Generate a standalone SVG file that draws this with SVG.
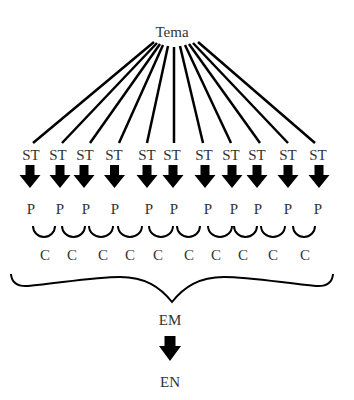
<svg xmlns="http://www.w3.org/2000/svg" xmlns:xlink="http://www.w3.org/1999/xlink" width="354" height="400" viewBox="0 0 354 400">
<style>
text{font-family:'Liberation Serif','DejaVu Serif',serif;font-size:15px;fill:#333;text-anchor:middle}
.ln{stroke:#000;stroke-width:2.5;fill:none;stroke-linecap:butt}
.arc{stroke:#000;stroke-width:2;fill:none}
.ar{fill:#000}
</style>
<defs>
<path id="arr" d="M-4.5,0 H4.5 V10 H10.5 L0,23 L-10.5,10 H-4.5 Z"/>
<path id="arrBig" d="M-5.5,0 H5.5 V10 H11 L0,25 L-11,10 H-5.5 Z"/>
</defs>
<rect width="354" height="400" fill="#fff"/>
<g id="connectors">
<g id="tema-lines">
<line class="ln" x1="154" y1="42" x2="33" y2="143"/>
<line class="ln" x1="157" y1="43" x2="62" y2="143"/>
<line class="ln" x1="160" y1="44" x2="90" y2="143"/>
<line class="ln" x1="163" y1="45" x2="119" y2="143"/>
<line class="ln" x1="168" y1="46" x2="147" y2="143"/>
<line class="ln" x1="174" y1="47" x2="174" y2="143"/>
<line class="ln" x1="180" y1="46" x2="203" y2="143"/>
<line class="ln" x1="185" y1="45" x2="231" y2="143"/>
<line class="ln" x1="189" y1="44" x2="260" y2="143"/>
<line class="ln" x1="193" y1="43" x2="288" y2="143"/>
<line class="ln" x1="198" y1="42" x2="315" y2="143"/>
</g>
<g id="st-arrows" class="ar">
<use xlink:href="#arr" transform="translate(30,165)"/>
<use xlink:href="#arr" transform="translate(60,165)"/>
<use xlink:href="#arr" transform="translate(84,165)"/>
<use xlink:href="#arr" transform="translate(114.5,165)"/>
<use xlink:href="#arr" transform="translate(147,165)"/>
<use xlink:href="#arr" transform="translate(173,165)"/>
<use xlink:href="#arr" transform="translate(205,165)"/>
<use xlink:href="#arr" transform="translate(232,165)"/>
<use xlink:href="#arr" transform="translate(257,165)"/>
<use xlink:href="#arr" transform="translate(288,165)"/>
<use xlink:href="#arr" transform="translate(319,165)"/>
</g>
<g id="p-arcs">
<path class="arc" d="M33,226 A11,11 0 0 0 55,226"/>
<path class="arc" d="M62,226 A11.5,11 0 0 0 85,226"/>
<path class="arc" d="M89,226 A12,11 0 0 0 113,226"/>
<path class="arc" d="M118,226 A12,11 0 0 0 142,226"/>
<path class="arc" d="M149,226 A12,11 0 0 0 173,226"/>
<path class="arc" d="M177,226 A11.5,11 0 0 0 200,226"/>
<path class="arc" d="M208,226 A12,11 0 0 0 232,226"/>
<path class="arc" d="M234,226 A11.5,11 0 0 0 257,226"/>
<path class="arc" d="M261,226 A12,11 0 0 0 285,226"/>
<path class="arc" d="M293,226 A11,11 0 0 0 315,226"/>
</g>
<path id="brace" class="arc" d="M11,274 Q12,287 28,286 C60,283 95,277 120,277 C145,277 160,287 172,302 C184,287 199,277 224,277 C249,277 284,283 316,286 Q332,287 333,274"/>
<use id="em-en-arrow" class="ar" xlink:href="#arrBig" transform="translate(170,336)"/>
</g>
<g id="Tema"><text x="172" y="37">Tema</text></g>
<g id="ST1"><text x="31" y="160">ST</text></g>
<g id="ST2"><text x="58" y="160">ST</text></g>
<g id="ST3"><text x="85" y="160">ST</text></g>
<g id="ST4"><text x="114" y="160">ST</text></g>
<g id="ST5"><text x="147" y="160">ST</text></g>
<g id="ST6"><text x="172" y="160">ST</text></g>
<g id="ST7"><text x="204" y="160">ST</text></g>
<g id="ST8"><text x="231" y="160">ST</text></g>
<g id="ST9"><text x="257" y="160">ST</text></g>
<g id="ST10"><text x="288" y="160">ST</text></g>
<g id="ST11"><text x="318" y="160">ST</text></g>
<g id="P1"><text x="31" y="214">P</text></g>
<g id="P2"><text x="60" y="214">P</text></g>
<g id="P3"><text x="86" y="214">P</text></g>
<g id="P4"><text x="115" y="214">P</text></g>
<g id="P5"><text x="149" y="214">P</text></g>
<g id="P6"><text x="174" y="214">P</text></g>
<g id="P7"><text x="208" y="214">P</text></g>
<g id="P8"><text x="234" y="214">P</text></g>
<g id="P9"><text x="258" y="214">P</text></g>
<g id="P10"><text x="288" y="214">P</text></g>
<g id="P11"><text x="318" y="214">P</text></g>
<g id="C1"><text x="45" y="260">C</text></g>
<g id="C2"><text x="72" y="260">C</text></g>
<g id="C3"><text x="103" y="260">C</text></g>
<g id="C4"><text x="130" y="260">C</text></g>
<g id="C5"><text x="158" y="260">C</text></g>
<g id="C6"><text x="189" y="260">C</text></g>
<g id="C7"><text x="216" y="260">C</text></g>
<g id="C8"><text x="243" y="260">C</text></g>
<g id="C9"><text x="273" y="260">C</text></g>
<g id="C10"><text x="305" y="260">C</text></g>
<g id="EM"><text x="170" y="325">EM</text></g>
<g id="EN"><text x="170" y="387">EN</text></g>
</svg>
